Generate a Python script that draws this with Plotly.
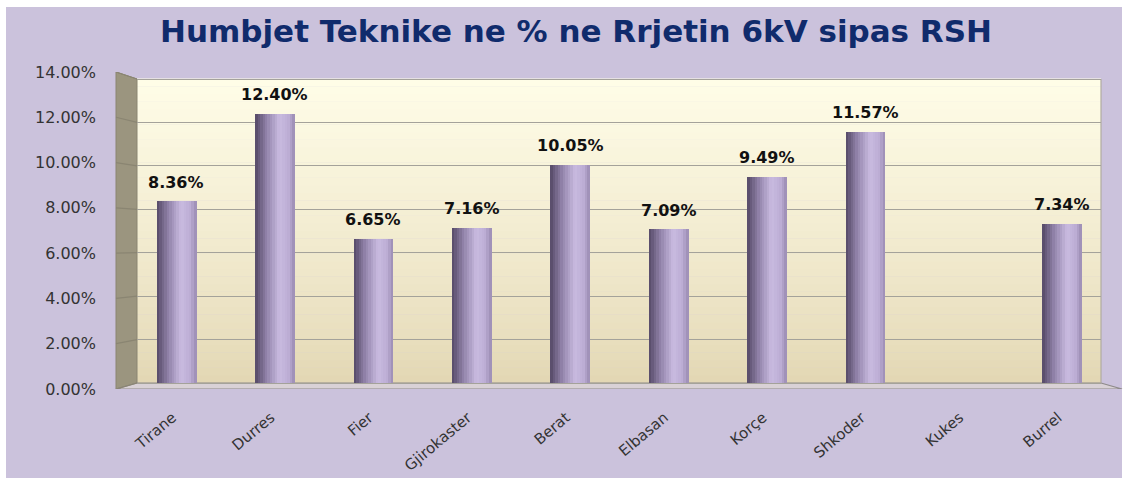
import plotly.graph_objects as go

categories = ["Tirane", "Durres", "Fier", "Gjirokaster", "Berat", "Elbasan",
              "Korçe", "Shkoder", "Kukes", "Burrel"]
values = [8.36, 12.40, 6.65, 7.16, 10.05, 7.09, 9.49, 11.57, None, 7.34]
y_ticks = [0, 2, 4, 6, 8, 10, 12, 14]
y_tick_labels = ["0.00%", "2.00%", "4.00%", "6.00%", "8.00%", "10.00%", "12.00%", "14.00%"]
title_text = "Humbjet Teknike ne % ne Rrjetin 6kV sipas RSH"

W, H = 1128, 478
PL, PR, PT, PB = 137, 1101, 72, 389
Y0_PX, Y14_PX = 383, 79
scale = (Y0_PX - Y14_PX) / 14.0
ymin = -(PB - Y0_PX) / scale
ymax = 14 + (Y14_PX - PT) / scale
depth = (PL - 116) / (PR - PL)


def front_y(v):
    px = PB - v * (PB - PT) / 14.0
    return (Y0_PX - px) / scale


def lerp(c1, c2, t):
    return tuple(int(round(a + (b - a) * t)) for a, b in zip(c1, c2))


def hexc(c):
    return "#%02x%02x%02x" % c


fig = go.Figure()

n_slices = 16
bar_w = 0.4
stops = [(0.0, (0x55, 0x49, 0x66)), (0.3, (0x93, 0x84, 0xab)),
         (0.62, (0xc9, 0xbb, 0xe0)), (0.85, (0xbc, 0xad, 0xd4)), (1.0, (0x9a, 0x8b, 0xb2))]


def grad(t):
    for (t1, c1), (t2, c2) in zip(stops[:-1], stops[1:]):
        if t1 <= t <= t2:
            return hexc(lerp(c1, c2, (t - t1) / (t2 - t1)))
    return hexc(stops[-1][1])


sw = bar_w / n_slices
for i in range(n_slices):
    fig.add_trace(go.Bar(
        x=categories, y=values,
        width=sw * 1.15, offset=-bar_w / 2 + i * sw,
        marker=dict(color=grad((i + 0.5) / n_slices), line=dict(width=0)),
        hoverinfo="skip", showlegend=False, yaxis="y",
    ))

fig.add_trace(go.Scatter(x=[categories[0]], y=[None], yaxis="y2", mode="markers",
                         hoverinfo="skip", showlegend=False))

shapes = []
shapes.append(dict(type="rect", xref="paper", yref="paper",
                   x0=(6 - PL) / (PR - PL), x1=(1122 - PL) / (PR - PL),
                   y0=-0.35, y1=(PB - 7) / (PB - PT),
                   fillcolor="#cbc2dc", line=dict(width=0), layer="below"))
n_strips = 40
top_c, bot_c = (0xff, 0xfd, 0xe8), (0xe2, 0xd6, 0xb2)
for i in range(n_strips):
    t = i / n_strips
    shapes.append(dict(type="rect", xref="paper", yref="y",
                       x0=0, x1=1, y0=14 * t, y1=14 * (t + 1 / n_strips) + 0.02,
                       fillcolor=hexc(lerp(bot_c, top_c, (t + 0.5 / n_strips) ** 0.8)),
                       line=dict(width=0), layer="below"))
shapes.append(dict(type="path", xref="paper", yref="y",
                   path=f"M {-depth},{ymin} L 0,0 L 0,14 L {-depth},{ymax} Z",
                   fillcolor="#9b957f", line=dict(color="#8a8572", width=1), layer="below"))
shapes.append(dict(type="path", xref="paper", yref="y",
                   path=f"M {-depth},{ymin} L 0,0 L 1,0 L {1 + depth},{ymin} Z",
                   fillcolor="#d9d1d6", line=dict(color="#8e8a8a", width=1.2), layer="below"))
shapes.append(dict(type="line", xref="paper", yref="y", x0=1, x1=1, y0=0, y1=14,
                   line=dict(color="#b0aca0", width=1.2), layer="below"))
for v in y_ticks:
    shapes.append(dict(type="line", xref="paper", yref="y",
                       x0=-depth, y0=front_y(v), x1=0, y1=v,
                       line=dict(color="#8a8572", width=1.2), layer="below"))

annotations = []
for c, v in zip(categories, values):
    if v is None:
        continue
    annotations.append(dict(x=c, y=v, xref="x", yref="y", text=f"{v:.2f}%",
                            showarrow=False, yshift=19, yanchor="middle",
                            font=dict(family="DejaVu Sans", size=16, color="#111111",
                                      weight="bold")))

fig.update_layout(
    width=W, height=H,
    margin=dict(l=PL, r=W - PR, t=PT, b=H - PB, pad=0, autoexpand=False),
    paper_bgcolor="white", plot_bgcolor="rgba(0,0,0,0)",
    barmode="overlay", bargap=0,
    showlegend=False,
    title=dict(text=title_text, x=576 / W, xanchor="center", xref="container",
               y=1 - 31.5 / H, yanchor="middle", yref="container",
               font=dict(family="DejaVu Sans", size=31, color="#102b6c", weight="bold")),
    xaxis=dict(range=[-0.401, 9.395], showgrid=False, zeroline=False, showline=False,
               ticks="", tickangle=-40, ticklabelstandoff=16, ticklabelshift=-4,
               automargin=False,
               tickfont=dict(family="DejaVu Sans", size=15, color="#333333")),
    yaxis=dict(range=[ymin, ymax], tickvals=y_ticks, showticklabels=False,
               showgrid=True, gridcolor="#a4a29a", gridwidth=1.3, automargin=False,
               zeroline=False, showline=False, ticks=""),
    yaxis2=dict(range=[0, 14], overlaying="y", anchor="x", side="left",
                tickvals=y_ticks, ticktext=y_tick_labels, showgrid=False,
                zeroline=False, showline=False, ticks="", ticklabelstandoff=40,
                automargin=False,
                tickfont=dict(family="DejaVu Sans", size=16, color="#333333")),
    shapes=shapes, annotations=annotations,
)

fig.write_html("out.html", config={"displayModeBar": False},
               post_script="document.body.style.margin='0';document.body.style.overflow='hidden';")
